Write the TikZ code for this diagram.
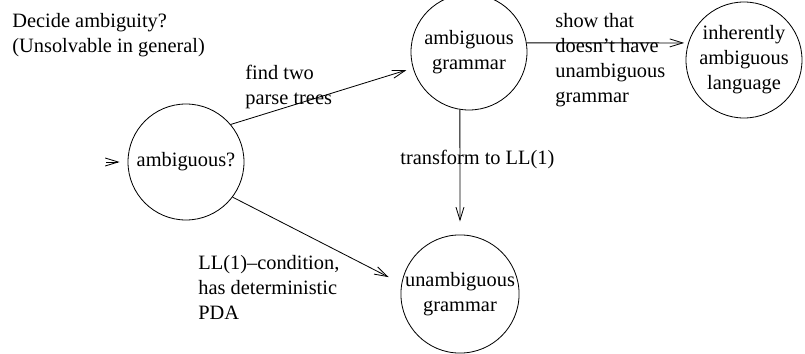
\documentclass[tikz,border=0pt]{standalone}
\usepackage{fontspec}
\setmainfont{Liberation Serif}
\usepackage{tikz}
\usetikzlibrary{positioning,arrows.meta,calc}

\begin{document}
\begin{tikzpicture}[
      font=\fontsize{17.4pt}{21.3pt}\selectfont,
      line width=0.7pt,
      state/.style={draw, circle, inner sep=0pt, minimum size=3.48cm, align=center},
      lbl/.style={inner sep=0pt, anchor=north west, align=left},
      arr/.style={-{Straight Barb[length=0.39cm, width=0.24cm]}}]
    \useasboundingbox (0,0) rectangle (24.15,10.62);
    \node[state] (amb) at (5.58,5.76) {ambiguous?};
    \node[state] (ag) at (14.07,9.06) {ambiguous\\grammar};
    \node[state] (ial) at (22.32,8.82) {inherently\\ambiguous\\language};
    \node[state] (ug) at (13.80,1.80) {unambiguous\\grammar};
    \coordinate (start) at (3.18,5.76);
    \node[lbl] (title) at (0.36,10.23) {Decide ambiguity?\\(Unsolvable in general)};
    \node[lbl] (find) at (7.35,8.67) {find two\\parse trees};
    \node[lbl] (show) at (16.65,10.23) {show that\\doesn't have\\unambiguous\\grammar};
    \node[lbl] (trans) at (12.0,6.12) {transform to LL(1)};
    \node[lbl] (cond) at (5.94,2.97) {LL(1)--condition,\\has deterministic\\PDA};
    \draw[arr, shorten >=0.24cm] (start) -- (amb);
    \draw[arr, shorten >=0.2cm] (amb.40) -- (ag.196);
    \draw[arr, shorten >=0.43cm] (amb.323) -- (ug.170);
    \draw[arr, shorten >=0.12cm] (ag.9) -- (ial.163);
    \draw[arr, shorten >=0.39cm] (ag.261) -- (ug.north);
  \end{tikzpicture}
\end{document}
